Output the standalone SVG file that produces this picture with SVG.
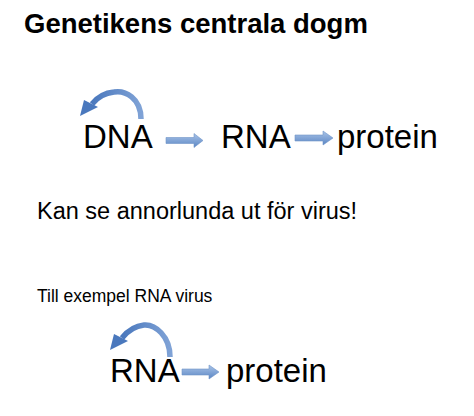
<svg xmlns="http://www.w3.org/2000/svg" width="474" height="416" viewBox="0 0 474 416">
<defs>
<linearGradient id="g" x1="0" y1="0" x2="0" y2="1">
<stop offset="0" stop-color="#a9c4e8"/>
<stop offset="1" stop-color="#5b86c4"/>
</linearGradient>
<linearGradient id="gc" x1="0" y1="0" x2="1" y2="0">
<stop offset="0" stop-color="#4a78bd"/>
<stop offset="1" stop-color="#7fa2d6"/>
</linearGradient>
<style>
text{font-family:"Liberation Sans",Arial,sans-serif;fill:#000}
.big{font-size:33px}
.arr{fill:url(#g);stroke:#6f93c8;stroke-width:0.6}
.curve{fill:none;stroke:url(#gc);stroke-width:5.5;stroke-linecap:butt}
.head{fill:#4a78bd}
</style>
</defs>
<rect width="474" height="416" fill="#fff"/>
<text x="24" y="33" style="font-size:27.5px;font-weight:bold">Genetikens centrala dogm</text>
<g id="n-dna"><text class="big" x="83" y="148">DNA</text></g>
<g id="n-rna1"><text class="big" x="221" y="148">RNA</text></g>
<g id="n-protein1"><text class="big" x="337" y="148">protein</text></g>
<text x="37" y="219" style="font-size:23.5px">Kan se annorlunda ut för virus!</text>
<text x="37" y="302" style="font-size:17.5px">Till exempel RNA virus</text>
<g id="n-rna2"><text class="big" x="110" y="382">RNA</text></g>
<g id="n-protein2"><text class="big" x="226" y="382">protein</text></g>
<g id="connectors">
<path class="arr" d="M166,137.5 H194 V133.5 L203,140.5 L194,147.5 V143.5 H166 Z"/>
<path class="arr" d="M295,135 H323 V131 L333,138 L323,145 V141 H295 Z"/>
<path class="arr" d="M182,369 H209 V365 L219,372 L209,379 V375 H182 Z"/>
<path class="curve" d="M141,119 C141,98 125,90 114,92 C104,93 96,99 92,104"/>
<path class="head" d="M80,116 L84,100 L98,107 Z"/>
<path class="curve" d="M170,357 C170,336 155,324 144,325 C134,326 126,333 122,338"/>
<path class="head" d="M110,350 L114,334 L128,341 Z"/>
</g>
</svg>
